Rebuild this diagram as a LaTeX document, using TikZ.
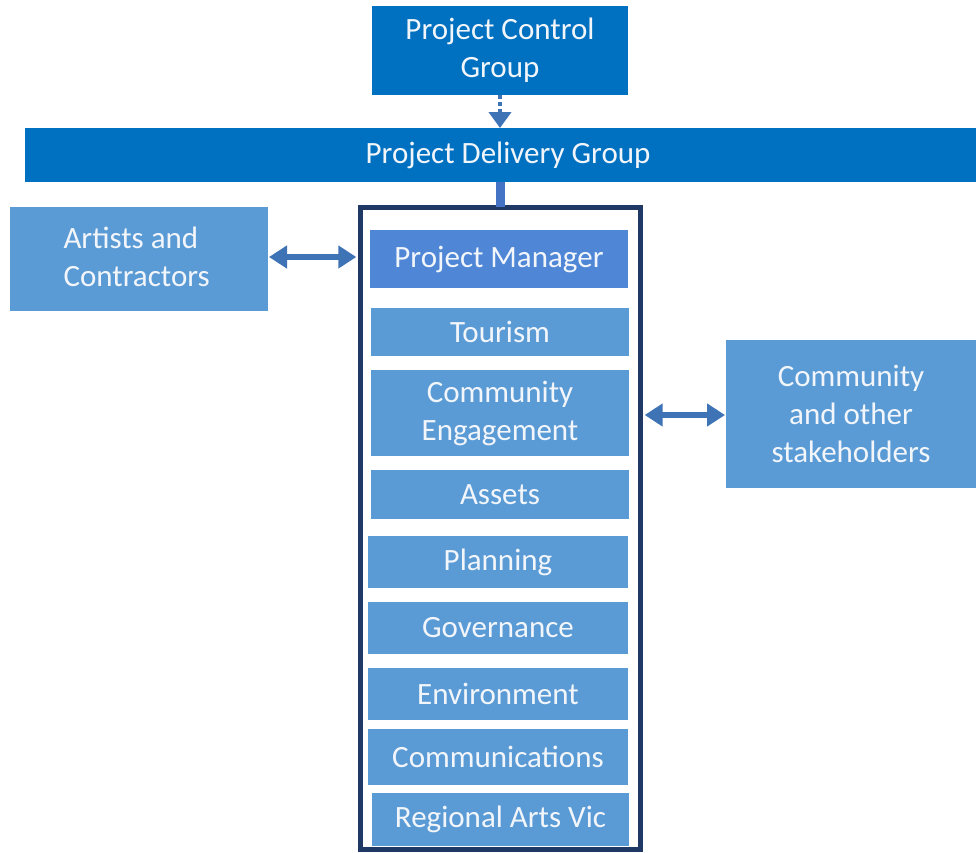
\documentclass[tikz,border=0pt]{standalone}
\usepackage{fontspec}
\setmainfont{Carlito}
\usetikzlibrary{arrows.meta}
\definecolor{darkblue}{HTML}{0070C0}
\definecolor{midblue}{HTML}{5B9BD5}
\definecolor{pmblue}{HTML}{4F87D6}
\definecolor{arrowblue}{HTML}{3E73B6}
\definecolor{navy}{HTML}{1F3864}
\definecolor{stubblue}{HTML}{4472C4}
\definecolor{label}{HTML}{F2F6FB}
\begin{document}
\begin{tikzpicture}[x=1pt,y=-1pt,
  box/.style={anchor=north west, inner sep=0pt, outer sep=0pt, align=center,
    text=label, font=\fontsize{31}{38}\selectfont},
  topbox/.style={box, fill=darkblue},
  unit/.style={box, fill=midblue},
  twoway/.style={arrowblue, line width=6pt,
    {Triangle[width=22pt,length=18pt]}-{Triangle[width=22pt,length=18pt]}, shorten <=1pt, shorten >=1pt}]
\useasboundingbox (0,0) rectangle (976,852);
\fill[white] (0,0) rectangle (976,852);

% top groups
\node[topbox, minimum width=256pt, minimum height=89pt] (pcg) at (372,6) {Project Control\\Group};
\node[topbox, minimum width=951pt, minimum height=54pt] (pdg) at (25,128) {};
\node[text=label, font=\fontsize{31}{38}\selectfont] at (508,155) {Project Delivery Group};

% delivery team container
\draw[navy, line width=5pt] (360.5,207.5) rectangle (640.5,849.5);
\coordinate (team) at (500,207);
\node[inner sep=0pt] (teamL) at (358,257) {};
\node[inner sep=0pt] (teamR) at (643,415) {};

% team members
\node[box, fill=pmblue, minimum width=258pt, minimum height=58pt] (pm) at (370,230) {Project Manager};
\node[unit, minimum width=258pt, minimum height=48pt] (tour) at (371,308) {Tourism};
\node[unit, minimum width=258pt, minimum height=86pt] (ce) at (371,370) {Community\\Engagement};
\node[unit, minimum width=258pt, minimum height=49pt] (assets) at (371,470) {Assets};
\node[unit, minimum width=260pt, minimum height=52pt] (plan) at (368,536) {Planning};
\node[unit, minimum width=260pt, minimum height=52pt] (gov) at (368,602) {Governance};
\node[unit, minimum width=260pt, minimum height=52pt] (env) at (368,668) {Environment};
\node[unit, minimum width=260pt, minimum height=56pt] (comm) at (368,729) {Communications};
\node[unit, minimum width=257pt, minimum height=53pt] (rav) at (372,793) {Regional Arts Vic};

% external parties
\node[unit, minimum width=258pt, minimum height=104pt] (artists) at (10,207) {};
\node[text=label, font=\fontsize{31}{38}\selectfont, align=left, anchor=west] at (60,257) {Artists and\\Contractors};
\node[unit, minimum width=250pt, minimum height=148pt] (stake) at (726,340) {Community\\and other\\stakeholders};

% connectors
\draw[arrowblue, line width=4pt, dash pattern=on 4pt off 3pt, -{Triangle[width=22pt,length=16pt]}]
  (pcg.south) -- (pdg.north -| pcg.south);
\draw[stubblue, line width=9pt] (pdg.south -| team) -- (team);
\draw[twoway] (artists.east |- teamL) -- (teamL);
\draw[twoway] (teamR) -- (stake.west |- teamR);
\end{tikzpicture}
\end{document}
